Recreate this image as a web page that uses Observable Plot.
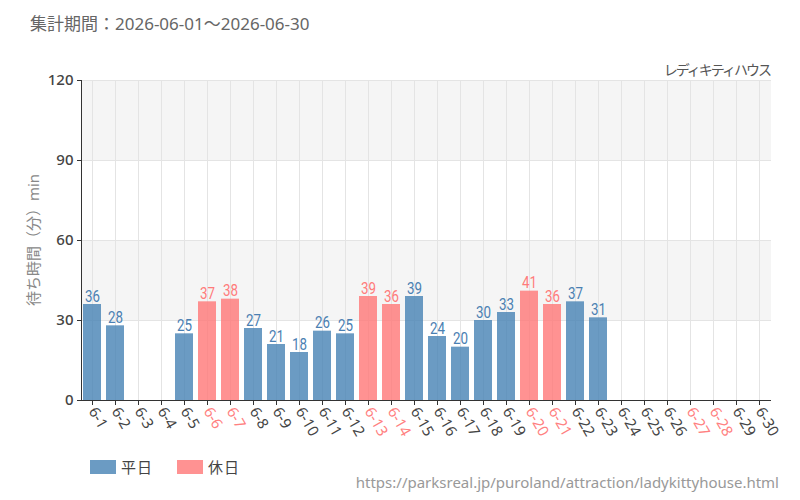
<!DOCTYPE html>
<html>
<head>
<meta charset="utf-8">
<script src="https://cdn.jsdelivr.net/npm/d3@7"></script>
<script src="https://cdn.jsdelivr.net/npm/@observablehq/plot@0.6"></script>
<style>
  body { margin: 0; background: #fff; }
  #wrap { position: relative; width: 800px; height: 500px; font-family: "Noto Sans", "Noto Sans CJK JP", sans-serif; }
  #wrap svg { position: absolute; left: 0; top: 0; }
  .title { position: absolute; left: 30px; top: 10px; font-size: 17px; color: #666; }
  .attr { position: absolute; right: 30px; top: 59px; font-size: 14px; color: #555; letter-spacing: -2px; }
  .ylab { position: absolute; left: 32px; top: 240px; font-size: 15px; color: #888;
          transform: translate(-50%, -50%) rotate(-90deg); white-space: nowrap; }
  .legend { position: absolute; left: 90px; top: 456px; font-size: 15px; color: #444; display: flex; gap: 24px;
            font-family: "Noto Sans CJK JP", sans-serif; }
  .legend span { display: inline-flex; align-items: center; letter-spacing: 1px; }
  .legend i { display: inline-block; width: 26px; height: 14px; margin-right: 5px; }
  .src { position: absolute; right: 21px; top: 472px; font-size: 15px; color: #999; }
</style>
</head>
<body>
<div id="wrap">
  <div class="title">集計期間：2026-06-01～2026-06-30</div>
  <div class="attr">レディキティハウス</div>
  <div class="ylab">待ち時間（分）min</div>
  <div class="legend"><span><i style="background:#6b9bc3"></i>平日</span><span><i style="background:#ff9292"></i>休日</span></div>
  <div class="src">https://parksreal.jp/puroland/attraction/ladykittyhouse.html</div>
</div>
<script>
// June days and average wait (minutes); null = no data
const days = ["6-1","6-2","6-3","6-4","6-5","6-6","6-7","6-8","6-9","6-10",
  "6-11","6-12","6-13","6-14","6-15","6-16","6-17","6-18","6-19","6-20",
  "6-21","6-22","6-23","6-24","6-25","6-26","6-27","6-28","6-29","6-30"];
const waits = [36, 28, null, null, 25, 37, 38, 27, 21, 18,
  26, 25, 39, 36, 39, 24, 20, 30, 33, 41,
  36, 37, 31, null, null, null, null, null, null, null];
const holidays = ["6-6","6-7","6-13","6-14","6-20","6-21","6-27","6-28"];
const yTicks = [0, 30, 60, 90, 120];
const shadedBands = [[30, 60], [90, 120]];

const weekdayColor = "#4682b4";
const holidayColor = "#ff7777";

const rows = days.map((day, i) => ({day, wait: waits[i], holiday: holidays.includes(day)}));
const bars = rows.filter(d => d.wait != null);

const chart = Plot.plot({
  width: 800,
  height: 500,
  marginTop: 80,
  marginBottom: 100,
  marginLeft: 81,
  marginRight: 29,
  style: {fontFamily: "'Noto Sans', sans-serif", background: "transparent"},
  color: {type: "identity"},
  x: {domain: days, paddingInner: 0.2, paddingOuter: 0.1, label: null},
  y: {domain: [0, 120], label: null},
  marks: [
    Plot.rect(shadedBands, {y1: d => d[0], y2: d => d[1], fill: "#f5f5f5"}),
    Plot.gridY(yTicks.slice(1), {stroke: "#e4e4e4", strokeOpacity: 1}),
    Plot.gridX({stroke: "#e4e4e4", strokeOpacity: 1}),
    Plot.barY(bars, {x: "day", y: "wait", fill: d => d.holiday ? holidayColor : weekdayColor, fillOpacity: 0.8}),
    Plot.text(bars, {x: "day", y: "wait", text: "wait", dy: -8, fontSize: 16.5, fontWeight: 400,
      fontFamily: "Roboto, sans-serif", className: "vlabel",
      fill: d => d.holiday ? "#ff7b7b" : "#4a80b2"}),
    Plot.axisY(yTicks, {tickSize: 4, tickPadding: 4, fontSize: 15, fontWeight: 500, fill: "#444", stroke: "#333", label: null}),
    Plot.axisX({tickSize: 5, tickPadding: 3, tickRotate: 60, fontSize: 15, stroke: "#333",
      fill: d => holidays.includes(d) ? "#ff8080" : "#444", label: null}),
    Plot.ruleY([0], {stroke: "#333"}),
    Plot.frame({anchor: "left", stroke: "#333"})
  ]
});
// condensed value labels
d3.select(chart).selectAll("g.vlabel text")
  .attr("textLength", function() { return this.textContent.length * 7.5; })
  .attr("lengthAdjust", "spacingAndGlyphs");
document.getElementById("wrap").prepend(chart);
</script>
</body>
</html>
